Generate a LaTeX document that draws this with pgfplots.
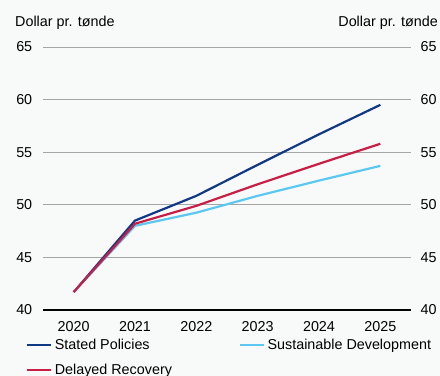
\documentclass[border=0pt]{standalone}
\usepackage{pgfplots}
\pgfplotsset{compat=1.18}
\usepackage{fontspec}
\setmainfont{Liberation Sans}
\usetikzlibrary{backgrounds}
\definecolor{bgcol}{RGB}{248,249,249}
\definecolor{gridcol}{RGB}{165,165,165}
\definecolor{stated}{RGB}{16,56,135}
\definecolor{delayed}{RGB}{200,30,70}
\definecolor{sustain}{RGB}{90,200,240}

\begin{document}
\begin{tikzpicture}
\pgfplotsset{
  base/.style={
    width=368bp, height=263bp, scale only axis,
    at={(0,0)}, anchor=south west,
    xmin=-0.5, xmax=5.5, ymin=40, ymax=65,
    ytick={40,45,...,65},
    font=\fontsize{14.4}{17}\selectfont,
    /pgf/number format/assume math mode=true,
    ytick style={draw=none},
    clip=false,
  }
}
\begin{axis}[base,
    axis x line*=bottom, axis y line*=left,
    y axis line style={draw=none},
    x axis line style={black, line width=1.2pt, -},
    ymajorgrids, grid style={gridcol, line width=1pt},
    xtick={0,...,5},
    xticklabels={2020,2021,2022,2023,2024,2025},
    xtick style={draw=none},
    minor xtick={-0.5,0.5,...,5.5},
    minor x tick style={black, line width=0.8pt},
    minor tick length=4bp,
    tick align=outside,
    xticklabel style={yshift=-4bp},
    yticklabel style={xshift=-3bp},
    legend columns=2,
    legend style={at={(rel axis cs:0,0)}, anchor=north west,
      xshift=-17bp, yshift=-27bp,
      draw=none, fill=none, inner sep=0pt,
      font=\fontsize{14.4}{17}\selectfont,
      /tikz/every even column/.append style={column sep=65bp},
      row sep=9bp},
    legend cell align=left,
    legend image code/.code={\draw[#1, line width=2.6pt] (0bp,0bp) -- (24bp,0bp);},
]
\addplot[stated, line width=2.2pt] coordinates {(0,41.7) (1,48.5) (2,50.85) (3,53.8) (4,56.7) (5,59.5)};
\addplot[sustain, line width=2.2pt] coordinates {(0,41.7) (1,48.0) (2,49.25) (3,50.85) (4,52.3) (5,53.7)};
\addplot[delayed, line width=2.2pt] coordinates {(0,41.7) (1,48.2) (2,49.9) (3,51.95) (4,53.9) (5,55.8)};
\legend{Stated Policies, Sustainable Development, Delayed Recovery}
\node[anchor=base west, inner sep=0pt] at ([xshift=-28bp, yshift=20bp]rel axis cs:0,1) {Dollar pr. tønde};
\end{axis}
\begin{axis}[base,
    hide x axis,
    axis y line*=right,
    y axis line style={draw=none},
    yticklabel style={xshift=6bp},
]
\node[anchor=base east, inner sep=0pt] at ([xshift=27bp, yshift=20bp]rel axis cs:1,1) {Dollar pr. tønde};
\end{axis}
\begin{scope}[on background layer]
\fill[bgcol] (-43bp,-66bp) rectangle (397bp,310bp);
\end{scope}
\pgfresetboundingbox
\path[use as bounding box] (-43bp,-66bp) rectangle (397bp,310bp);
\end{tikzpicture}
\end{document}
